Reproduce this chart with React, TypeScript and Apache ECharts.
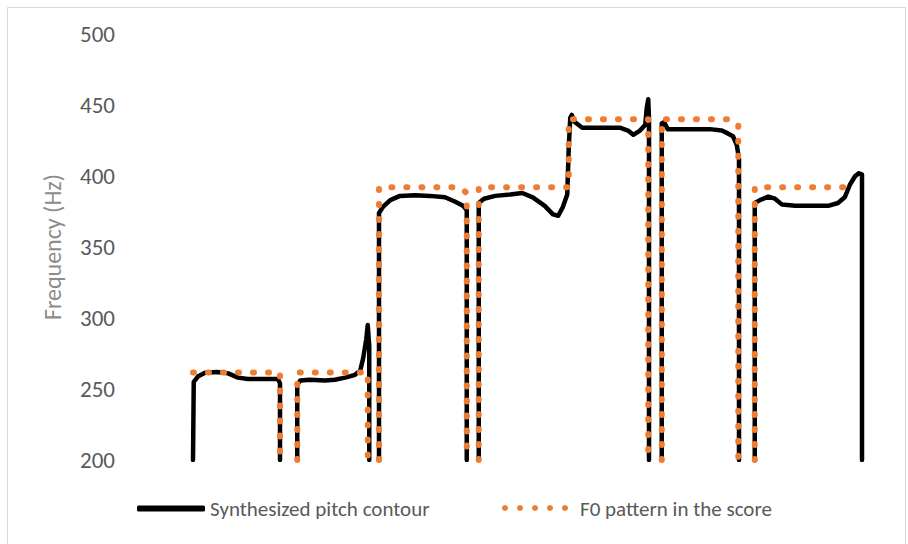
import React, { useEffect, useRef } from "react";
import * as echarts from "echarts";

// time axis in arbitrary frame units (0..100)
const synthTime: (number | null)[] = [
  8.4, 8.5, 9.1, 10.0, 11.6, 13.1, 14.4, 15.7, 18.0, 19.7, 20.0, 20.0, null,
  22.3, 22.3, 22.7, 24.0, 26.0, 27.3, 28.7, 30.0, 30.7, 31.1, 31.5, 31.7, 31.9, 31.9, null,
  33.2, 33.2, 33.7, 34.7, 36.0, 38.0, 40.0, 42.0, 43.3, 44.4, 44.9, 44.9, null,
  46.5, 46.5, 47.2, 48.7, 50.7, 52.3, 53.7, 55.3, 56.4, 57.1, 57.7, 58.3, 58.5, 58.7, 58.9, 59.3, 60.3, 62.7, 65.3, 66.4, 67.1, 68.0, 68.7, 68.9, 69.1, 69.2, 69.2, null,
  70.9, 70.9, 71.2, 71.7, 74.7, 77.3, 78.9, 79.7, 80.4, 80.9, 81.2, 81.2, null,
  83.3, 83.3, 84.0, 85.1, 86.0, 86.9, 88.7, 91.3, 93.1, 94.4, 95.3, 96.0, 96.7, 97.2, 97.6, 97.6,
];
const synthHz: (number | null)[] = [
  200, 255, 259, 261.5, 262, 261, 258, 257, 257, 257, 254, 200, null,
  200, 253, 256, 256.5, 256, 256.5, 258, 260, 263, 272, 285, 295, 280, 200, null,
  200, 374, 378, 383, 386, 386.5, 386, 385, 382, 379, 376, 200, null,
  200, 381, 384, 386, 387, 388, 385, 379, 373, 372, 378, 387, 420, 441, 443, 438, 434, 434, 434, 432, 429, 432, 436, 448, 454, 440, 200, null,
  200, 437, 438, 433, 433, 433, 432, 430, 428, 422, 412, 200, null,
  200, 381, 383, 385.5, 384, 380, 379, 379, 379, 381, 385, 394, 400, 402, 401, 200,
];

const scoreTime: (number | null)[] = [
  8.4, 20.0, 20.0, null,
  22.3, 22.3, 31.7, 31.7, null,
  33.2, 33.2, 44.0, 44.9, 44.9, null,
  46.5, 46.5, 58.5, 58.5, 69.1, 69.1, null,
  70.9, 70.9, 80.1, 81.1, 81.1, null,
  83.3, 83.3, 96.0,
];
const scoreHz: (number | null)[] = [
  261.6, 261.6, 200, null,
  200, 261.6, 261.6, 200, null,
  200, 392, 392, 388, 200, null,
  200, 392, 392, 440, 440, 200, null,
  200, 440, 440, 436, 200, null,
  200, 392, 392,
];

const yTicks = [200, 250, 300, 350, 400, 450, 500];
const seriesNames = ["Synthesized pitch contour", "F0 pattern in the score"];

const pair = (t: (number | null)[], v: (number | null)[]) =>
  t.map((x, i) => (x === null || v[i] === null ? [null, null] : [x, v[i]]));

export default function App() {
  const ref = useRef<HTMLDivElement>(null);
  useEffect(() => {
    if (!ref.current) return;
    const chart = echarts.init(ref.current, null, { renderer: "svg" });
    const font = "Carlito, 'Liberation Sans', Arial, sans-serif";
    const legendDots = [0, 1, 2, 3, 4].map((i) => ({
      type: "circle",
      x: 505 + i * 15,
      y: 508,
      shape: { r: 3 },
      style: { fill: "#ED7D31" },
      silent: true,
    }));
    chart.setOption({
      animation: false,
      backgroundColor: "#ffffff",
      graphic: [
        {
          type: "rect",
          left: 5,
          top: 5,
          shape: { width: 898, height: 537 },
          style: { fill: "none", stroke: "#d9d9d9", lineWidth: 1 },
          silent: true,
        },
        ...legendDots,
      ],
      grid: { left: 130, right: 28, top: 34, bottom: 84 },
      xAxis: { type: "value", min: 0, max: 100, show: false },
      yAxis: {
        type: "value",
        min: yTicks[0],
        max: yTicks[yTicks.length - 1],
        interval: 50,
        name: "Frequency (Hz)",
        nameLocation: "middle",
        nameGap: 66,
        nameTextStyle: { color: "#8c8c8c", fontSize: 24, fontFamily: font },
        axisLine: { show: false },
        axisTick: { show: false },
        splitLine: { show: false },
        axisLabel: { color: "#595959", fontSize: 23, fontFamily: font, margin: 15 },
      },
      legend: [
        {
          data: [{ name: seriesNames[0], icon: "roundRect" }],
          left: 132,
          top: 493,
          itemWidth: 68,
          itemHeight: 6,
          itemStyle: { borderWidth: 0 },
          textStyle: { color: "#595959", fontSize: 21, fontFamily: font },
        },
        {
          data: [{ name: seriesNames[1], icon: "none" }],
          left: 502,
          top: 493,
          itemWidth: 68,
          itemHeight: 6,
          itemStyle: { color: "transparent", borderWidth: 0 },
          lineStyle: { color: "transparent" },
          textStyle: { color: "#595959", fontSize: 21, fontFamily: font },
        },
      ],
      series: [
        {
          name: seriesNames[0],
          type: "line",
          data: pair(synthTime, synthHz),
          showSymbol: false,
          symbol: "none",
          connectNulls: false,
          lineStyle: { color: "#000000", width: 4.5, join: "round", cap: "round" },
          itemStyle: { color: "#000000" },
          z: 2,
        },
        {
          name: seriesNames[1],
          type: "line",
          data: pair(scoreTime, scoreHz),
          showSymbol: false,
          symbol: "none",
          connectNulls: false,
          lineStyle: { color: "#ED7D31", width: 6, type: [1, 14], cap: "round", join: "round" },
          itemStyle: { color: "#ED7D31" },
          z: 3,
        },
      ],
    });
    return () => chart.dispose();
  }, []);
  return (
    <div
      ref={ref}
      style={{ position: "fixed", left: 0, top: 0, width: 908, height: 544, background: "#fff" }}
    />
  );
}
